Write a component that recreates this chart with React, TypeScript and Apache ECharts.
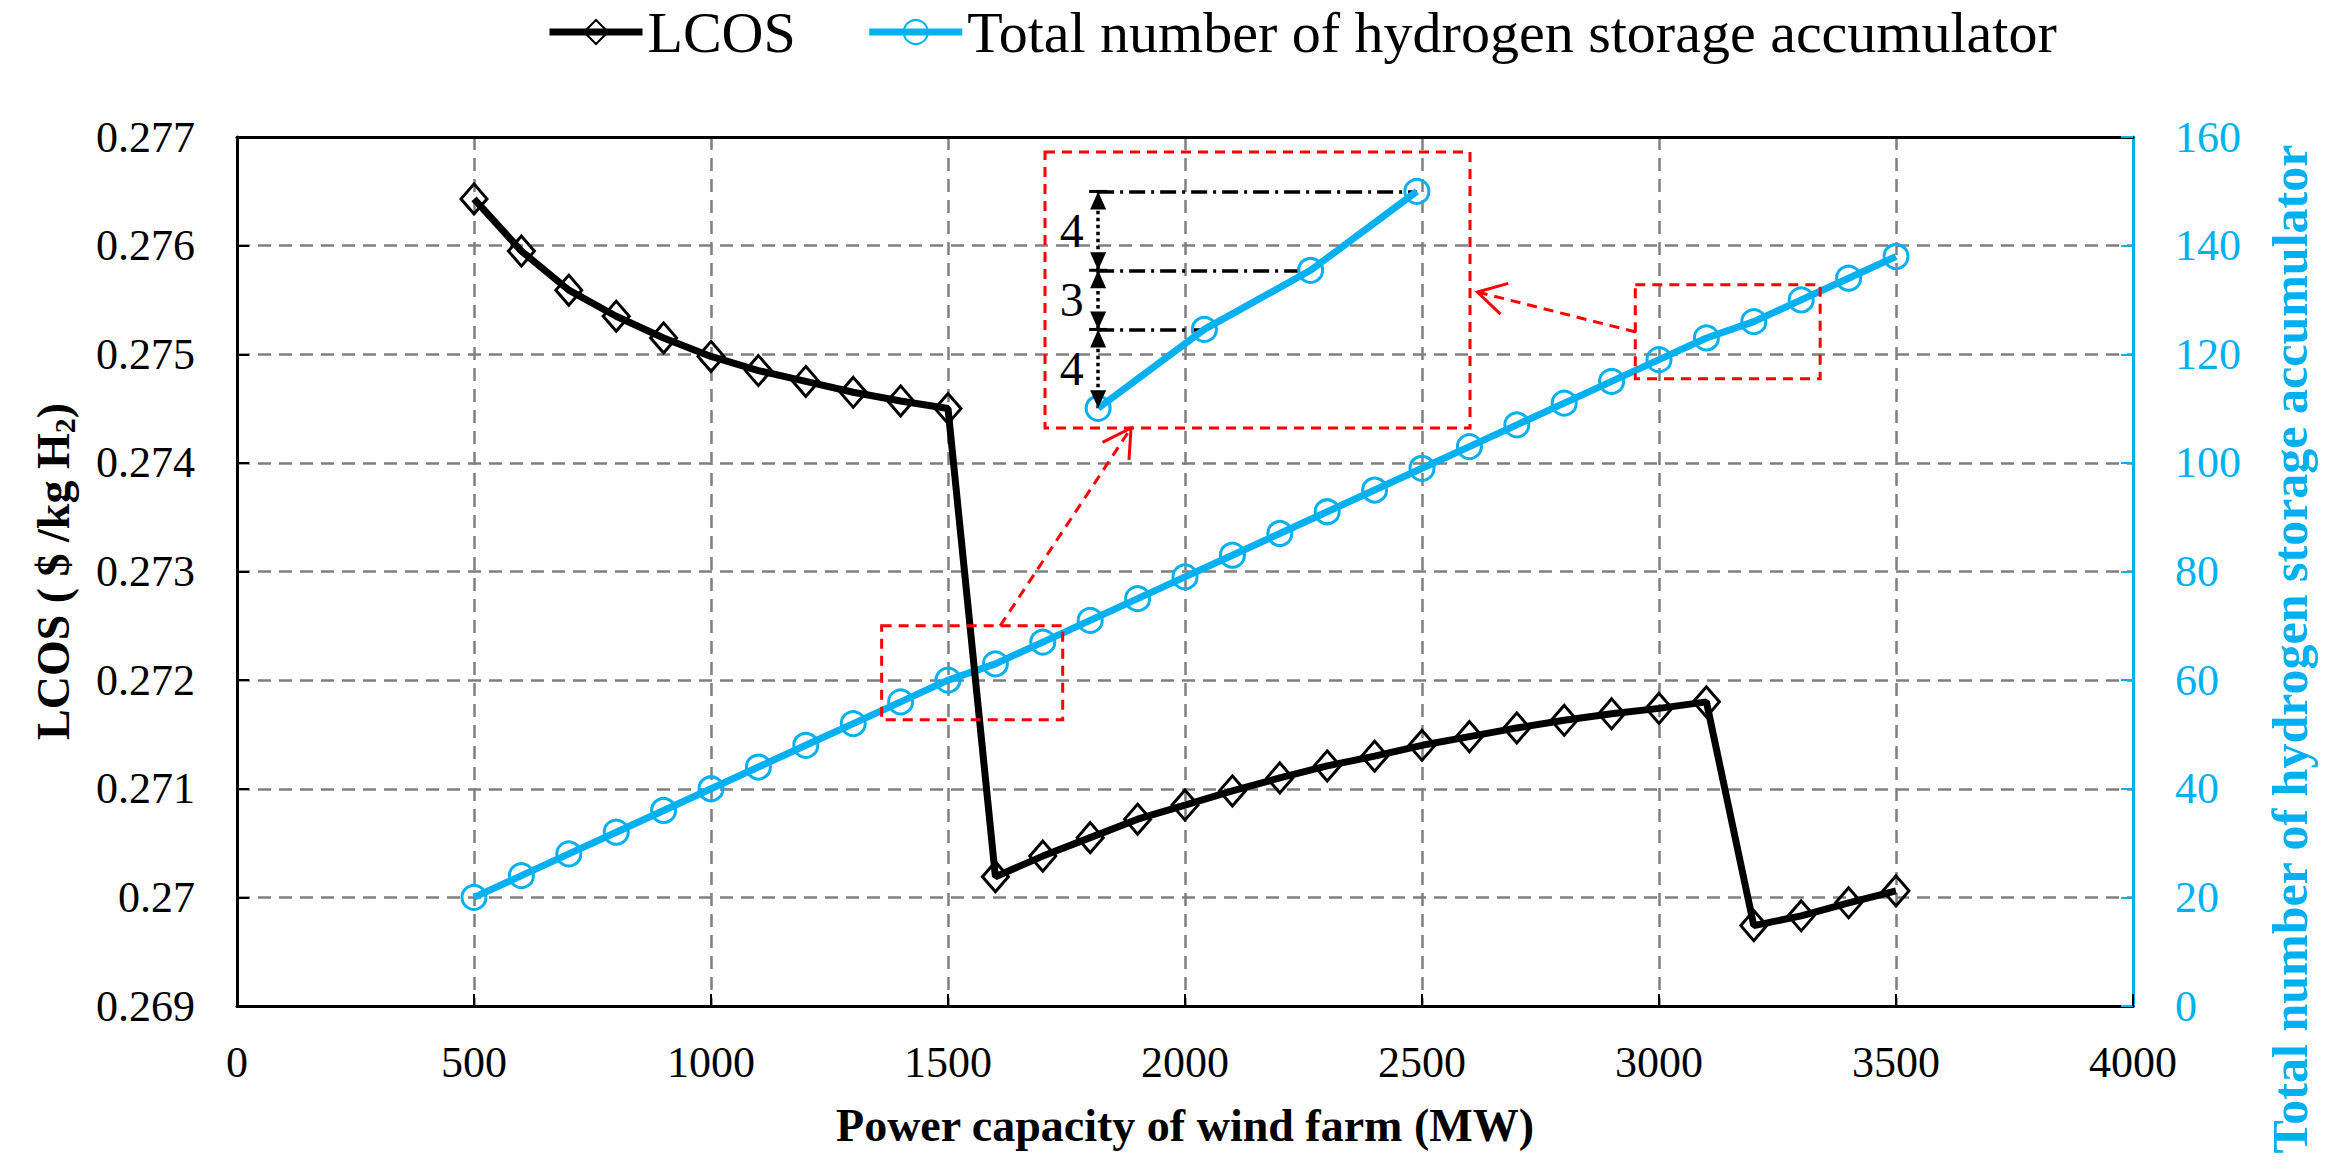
import React, { useEffect, useRef } from "react";
import * as echarts from "echarts";

// ---------- data ----------
const capacity = [500, 600, 700, 800, 900, 1000, 1100, 1200, 1300, 1400, 1500, 1600, 1700, 1800, 1900, 2000, 2100, 2200, 2300, 2400, 2500, 2600, 2700, 2800, 2900, 3000, 3100, 3200, 3300, 3400, 3500];
const lcos = [0.27643, 0.27595, 0.27559, 0.27535, 0.27515, 0.27498, 0.27485, 0.27475, 0.27465, 0.27457, 0.2745, 0.27019, 0.27038, 0.27055, 0.27072, 0.27085, 0.27098, 0.2711, 0.27121, 0.2713, 0.2714, 0.27148, 0.27156, 0.27163, 0.27169, 0.27174, 0.2718, 0.26974, 0.26983, 0.26995, 0.27006];
const accumulators = [20, 24, 28, 32, 36, 40, 44, 48, 52, 56, 60, 63, 67, 71, 75, 79, 83, 87, 91, 95, 99, 103, 107, 111, 115, 119, 123, 126, 130, 134, 138];
const insetCapacities = [3000, 3100, 3200, 3300];
const seriesNames = ["LCOS", "Total number of hydrogen storage accumulator"];
const xTitle = "Power capacity of wind farm (MW)";
const rightTitle = "Total number of hydrogen storage accumulator";

// ---------- annotation geometry (data space) ----------
const insetX = [2950, 3350];
const insetY = [118, 132];
const focusBoxes = [
  { from: [1360, 52.7], to: [1742, 70] },
  { from: [2950, 115.5], to: [3340, 132.8] },
];
const pointers = [
  { from: [1610, 70], to: [3031, 118] },
  { from: [2951, 124.1], to: [3357, 124.9] },
];

const FONT = "Liberation Serif";
const BLUE = "#00B0F0";
const RED = "#FF0000";
const GRID_GRAY = "#808080";

export default function App() {
  const ref = useRef<HTMLDivElement>(null);

  useEffect(() => {
    document.body.style.margin = "0";
    const chart = echarts.init(ref.current as HTMLDivElement, null, { renderer: "svg" });

    const mainBlue = capacity.map((c, i) => [c, accumulators[i]]);
    const mainLcos = capacity.map((c, i) => [c, lcos[i]]);
    const inset = mainBlue.filter((p) => insetCapacities.includes(p[0]));
    const base = inset[0];
    const dashData = inset.slice(1).map((p) => [{ coord: [base[0], p[1]] }, { coord: [p[0], p[1]] }]);
    const dimSegs = inset.slice(1).map((p, i) => [inset[i][1], p[1]]);
    const dimData = dimSegs.map((s) => [{ coord: [base[0], s[0]] }, { coord: [base[0], s[1]] }]);
    const dimLabels = dimSegs.map((s) => [base[0], (s[0] + s[1]) / 2, s[1] - s[0]]);

    const gridLine = { show: true, lineStyle: { color: GRID_GRAY, width: 2.5, type: [13, 8] } };
    const hidden = { show: false };

    const option: any = {
      animation: false,
      backgroundColor: "#fff",
      textStyle: { fontFamily: FONT },
      legend: {
        data: seriesNames,
        left: 541,
        top: -2,
        itemWidth: 93,
        itemHeight: 30,
        itemGap: 70,
        selectedMode: false,
        lineStyle: { width: 7 },
        textStyle: { fontFamily: FONT, fontSize: 58, color: "#000" },
      },
      grid: [
        { left: 237, right: 203, top: 137, bottom: 162, containLabel: false, outerBoundsMode: "none" },
        { left: 1045, top: 152, width: 425, height: 276, containLabel: false, outerBoundsMode: "none" },
      ],
      xAxis: [
        {
          type: "value", gridIndex: 0, position: "bottom", min: 0, max: 4000, interval: 500, z: 5,
          axisLine: { show: true, onZero: false, lineStyle: { color: "#000", width: 3 } },
          axisTick: { show: true, inside: true, length: 12, lineStyle: { color: "#000", width: 2 } },
          axisLabel: {
            margin: 34, fontFamily: FONT, fontSize: 44, color: "#000",
            formatter: (v: number) => String(v),
          },
          splitLine: hidden,
          name: xTitle, nameLocation: "middle", nameGap: 96,
          nameTextStyle: { fontFamily: FONT, fontSize: 46, fontWeight: "bold", color: "#000" },
        },
        {
          type: "value", gridIndex: 0, position: "top", min: 0, max: 4000, interval: 500, z: 5,
          axisLine: { show: true, onZero: false, lineStyle: { color: "#000", width: 3 } },
          axisTick: hidden, axisLabel: hidden, splitLine: hidden,
        },
        {
          type: "value", gridIndex: 0, min: 0, max: 4000, interval: 500, z: 0,
          axisLine: hidden, axisTick: hidden, axisLabel: hidden, splitLine: gridLine,
        },
        { type: "value", gridIndex: 1, min: insetX[0], max: insetX[1], show: false },
      ],
      yAxis: [
        {
          type: "value", gridIndex: 0, position: "left", min: 0.269, max: 0.277, interval: 0.001, z: 5,
          axisLine: { show: true, onZero: false, lineStyle: { color: "#000", width: 3 } },
          axisTick: { show: true, inside: true, length: 12, lineStyle: { color: "#000", width: 2 } },
          axisLabel: {
            margin: 42, fontFamily: FONT, fontSize: 44, color: "#000",
            formatter: (v: number) => String(parseFloat(v.toFixed(3))),
          },
          splitLine: hidden,
          name: "{a|LCOS ( $ /kg H}{s|2}{a|)}",
          nameLocation: "middle", nameGap: 158,
          nameTextStyle: {
            rich: {
              a: { fontFamily: FONT, fontSize: 46, fontWeight: "bold", color: "#000", lineHeight: 52 },
              s: { fontFamily: FONT, fontSize: 30, fontWeight: "bold", color: "#000", lineHeight: 30, verticalAlign: "bottom" },
            },
          },
        },
        {
          type: "value", gridIndex: 0, position: "right", min: 0, max: 160, interval: 20, z: 5,
          axisLine: { show: true, onZero: false, lineStyle: { color: BLUE, width: 3 } },
          axisTick: { show: true, inside: true, length: 12, lineStyle: { color: BLUE, width: 2 } },
          axisLabel: { margin: 42, fontFamily: FONT, fontSize: 44, color: BLUE, formatter: (v: number) => String(v) },
          splitLine: hidden,
        },
        {
          type: "value", gridIndex: 0, min: 0.269, max: 0.277, interval: 0.001, z: 0,
          axisLine: hidden, axisTick: hidden, axisLabel: hidden, splitLine: gridLine,
        },
        { type: "value", gridIndex: 1, min: insetY[0], max: insetY[1], show: false },
      ],
      series: [
        {
          name: seriesNames[1], type: "line", xAxisIndex: 0, yAxisIndex: 1, data: mainBlue,
          symbol: "circle", symbolSize: 24, z: 3,
          lineStyle: { color: BLUE, width: 7 },
          itemStyle: { color: "rgba(255,255,255,0)", borderColor: BLUE, borderWidth: 3 },
          emphasis: { disabled: true },
        },
        {
          name: seriesNames[0], type: "line", xAxisIndex: 0, yAxisIndex: 0, data: mainLcos,
          symbol: "diamond", symbolSize: [26, 30], z: 4,
          lineStyle: { color: "#000", width: 7 },
          itemStyle: { color: "rgba(255,255,255,0)", borderColor: "#000", borderWidth: 3 },
          emphasis: { disabled: true },
        },
        {
          name: "inset", type: "line", xAxisIndex: 3, yAxisIndex: 3, data: inset,
          symbol: "circle", symbolSize: 24, z: 6,
          lineStyle: { color: BLUE, width: 7 },
          itemStyle: { color: "rgba(255,255,255,0)", borderColor: BLUE, borderWidth: 3 },
          emphasis: { disabled: true },
          markLine: {
            silent: true, symbol: "none", label: { show: false },
            lineStyle: { color: "#000", width: 3.5, type: [16, 6, 3, 6] },
            emphasis: { disabled: true },
            data: dashData,
          },
        },
        {
          name: "insetDims", type: "scatter", xAxisIndex: 3, yAxisIndex: 3, data: dimLabels,
          symbolSize: 1, z: 7,
          itemStyle: { color: "rgba(0,0,0,0)", opacity: 1 },
          label: {
            show: true, position: "left", distance: 14, opacity: 1,
            fontFamily: FONT, fontSize: 48, color: "#000",
            formatter: (p: any) => String(p.value[2]),
          },
          emphasis: { disabled: true },
          markLine: {
            silent: true, symbol: "none", label: { show: false },
            lineStyle: { color: "#000", width: 3.5, type: "dotted" },
            emphasis: { disabled: true },
            data: dimData,
          },
        },
      ],
    };

    chart.setOption(option);

    const toMain = (pt: number[]) => chart.convertToPixel({ seriesIndex: 0 }, pt) as number[];
    const toInset = (pt: number[]) => chart.convertToPixel({ seriesIndex: 2 }, pt) as number[];
    const dash = { stroke: RED, lineWidth: 3, lineDash: [10, 7], fill: "none" };

    const rectFrom = (a: number[], b: number[]) => ({
      type: "rect", z: 20, silent: true,
      shape: { x: Math.min(a[0], b[0]), y: Math.min(a[1], b[1]), width: Math.abs(b[0] - a[0]), height: Math.abs(b[1] - a[1]) },
      style: dash,
    });

    const arrow = (from: number[], tip: number[]) => {
      const dx = from[0] - tip[0];
      const dy = from[1] - tip[1];
      const len = Math.hypot(dx, dy);
      const ux = dx / len;
      const uy = dy / len;
      const wing = (a: number) => [
        tip[0] + 32 * (ux * Math.cos(a) - uy * Math.sin(a)),
        tip[1] + 32 * (ux * Math.sin(a) + uy * Math.cos(a)),
      ];
      return [
        { type: "line", z: 20, silent: true, shape: { x1: from[0], y1: from[1], x2: tip[0], y2: tip[1] }, style: dash },
        { type: "polyline", z: 20, silent: true, shape: { points: [wing(0.52), tip, wing(-0.52)] }, style: { stroke: RED, lineWidth: 3, fill: "none" } },
      ];
    };

    const head = (tip: number[], dir: number) => ({
      type: "polygon", z: 20, silent: true,
      shape: { points: [tip, [tip[0] - 8, tip[1] + dir * 18], [tip[0] + 8, tip[1] + dir * 18]] },
      style: { fill: "#000", stroke: "none" },
    });

    const elements: any[] = [];
    focusBoxes.forEach((b) => elements.push(rectFrom(toMain(b.from), toMain(b.to))));
    elements.push(rectFrom(toInset([insetX[0], insetY[1]]), toInset([insetX[1], insetY[0]])));
    pointers.forEach((p) => elements.push(...arrow(toMain(p.from), toInset(p.to))));
    dimSegs.forEach((s) => {
      const lo = toInset([base[0], s[0]]);
      const hi = toInset([base[0], s[1]]);
      elements.push(head(hi, 1), head(lo, -1));
      elements.push({
        type: "line", z: 20, silent: true,
        shape: { x1: hi[0] - 9, y1: hi[1], x2: hi[0] + 9, y2: hi[1] },
        style: { stroke: "#000", lineWidth: 3 },
      });
    });
    elements.push({
      type: "text", z: 20, silent: true,
      x: 2290, y: 649, rotation: Math.PI / 2,
      style: {
        text: rightTitle, fill: BLUE, font: `bold 50px "${FONT}"`,
        align: "center", verticalAlign: "middle", textAlign: "center", textVerticalAlign: "middle",
      },
    });

    chart.setOption({ graphic: elements });

    return () => chart.dispose();
  }, []);

  return <div ref={ref} style={{ position: "absolute", left: 0, top: 0, width: 2336, height: 1168 }} />;
}
